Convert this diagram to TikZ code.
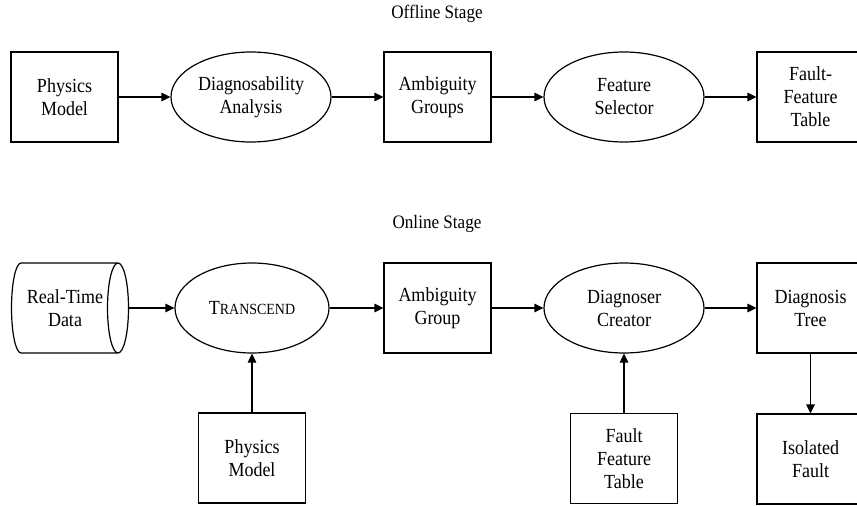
\documentclass[tikz,border=0pt]{standalone}
\usepackage{fontspec}
\setmainfont{Liberation Serif}[FakeStretch=0.9]
\usetikzlibrary{shapes.geometric,arrows.meta}

\tikzset{
  base/.style={draw, line width=1.2pt, align=center, inner sep=0pt,
    font=\fontsize{20}{23}\selectfont},
  procbox/.style={base, rectangle, minimum width=107pt, minimum height=90pt},
  proc/.style={base, ellipse, minimum width=160pt, minimum height=90pt},
  flow/.style={line width=1.2pt, -{Triangle[length=9pt,width=8.5pt]}},
  stage/.style={font=\fontsize{19}{23}\selectfont}
}

\begin{document}
\begin{tikzpicture}[x=1pt,y=-1pt]
  \clip (0,0) rectangle (857,506);

  % ---- offline stage ----
  \node[stage] (offt) at (437,14) {Offline Stage};
  \node[procbox] (pm1) at (64.5,97) {Physics\\Model};
  \node[proc]    (da)  at (251,97) {Diagnosability\\Analysis};
  \node[procbox] (ag1) at (437.5,97) {Ambiguity\\Groups};
  \node[proc]    (fs)  at (624,97) {Feature\\Selector};
  \node[procbox] (fft) at (810.5,97) {Fault-\\Feature\\Table};

  \draw[flow] (pm1.east) -- (da.west);
  \draw[flow] (da.east) -- (ag1.west);
  \draw[flow] (ag1.east) -- (fs.west);
  \draw[flow] (fs.east) -- (fft.west);

  % ---- online stage ----
  \node[stage] (ont) at (437,224) {Online Stage};

  % stored data drawn as a horizontal drum
  \draw[line width=1.2pt] (21,263) -- (118,263)
    (21,353) -- (118,353)
    (21,263) arc[start angle=-90, end angle=-270, x radius=9.5, y radius=45]
    (118,308) ellipse[x radius=10.5, y radius=45];
  \node[base, draw=none] (rtd) at (65,308) {Real-Time\\Data};
  \coordinate (rtdout) at (128.5,308);

  \node[proc, minimum width=154pt] (tr) at (252,308)
    {{\fontsize{20}{23}\selectfont T}{\fontsize{15.5}{23}\selectfont RANSCEND}};
  \node[procbox] (ag2) at (437.5,308) {Ambiguity\\Group};
  \node[proc]    (dc)  at (624,308) {Diagnoser\\Creator};
  \node[procbox] (dt)  at (810.5,308) {Diagnosis\\Tree};

  \node[procbox] (pm2) at (252,458) {Physics\\Model};
  \node[procbox] (fft2) at (624,458.5) {Fault\\Feature\\Table};
  \node[procbox] (if)  at (810.5,459) {Isolated\\Fault};

  \draw[flow] (rtdout) -- (tr.west);
  \draw[flow] (tr.east) -- (ag2.west);
  \draw[flow] (ag2.east) -- (dc.west);
  \draw[flow] (dc.east) -- (dt.west);
  \draw[flow] (pm2.north) -- (tr.south);
  \draw[flow] (fft2.north) -- (dc.south);
  \draw[flow] (dt.south) -- (if.north);
\end{tikzpicture}
\end{document}
